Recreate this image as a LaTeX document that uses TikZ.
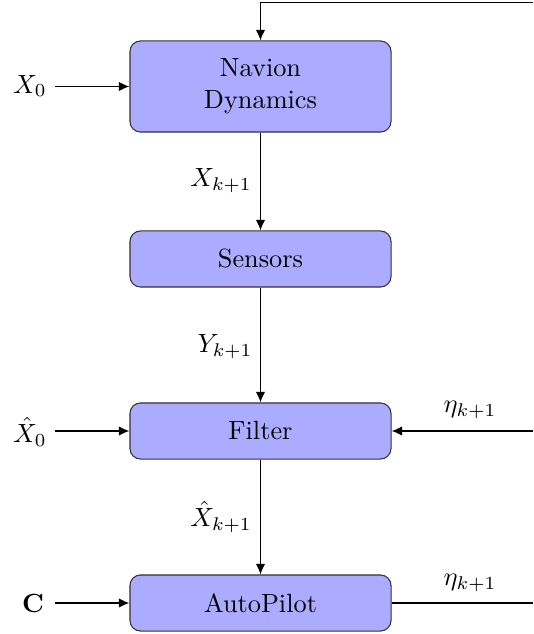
\documentclass[tikz,border=0pt]{standalone}
\usetikzlibrary{arrows.meta}
\begin{document}
\begin{tikzpicture}[x=0.38pt,y=-0.38pt,
  blk/.style={draw=black!80,fill=blue!33,rounded corners=4pt,minimum width=99.2pt,align=center,inner sep=2pt},
  blkS/.style={blk,minimum height=21.3pt},
  blkL/.style={blk,minimum height=34.6pt},
  arr/.style={-{Latex[length=4pt,width=3.5pt]},line width=0.45pt},
  ln/.style={line width=0.45pt}]
\useasboundingbox (0,0) rectangle (533,634);
\node[blkL] (nav) at (260.5,86.5) {Navion\\Dynamics};
\node[blkS] (sen) at (260.5,259) {Sensors};
\node[blkS] (fil) at (260.5,431) {Filter};
\node[blkS] (ap) at (260.5,603) {AutoPilot};
% left inputs
\node (x0) at (30,86) {$X_0$};
\node (xh0) at (30,432) {$\hat{X}_0$};
\node (c) at (33,603) {$\mathbf{C}$};
\coordinate (x0s) at (55,86.5);
\coordinate (xh0s) at (55,431);
\coordinate (cs) at (55,603);
\draw[arr] (x0s) -- (nav.west);
\draw[arr] (xh0s) -- (fil.west);
\draw[arr] (cs) -- (ap.west);
% vertical
\draw[arr] (nav.south) -- (sen.north);
\draw[arr] (sen.south) -- (fil.north);
\draw[arr] (fil.south) -- (ap.north);
\node (lx) at (221,181) {$X_{k+1}$};
\node (ly) at (225,347) {$Y_{k+1}$};
\node (lxh) at (221,517) {$\hat{X}_{k+1}$};
% feedback top
\coordinate (tr) at (533,2.5);
\coordinate (tl) at (260.5,2.5);
\draw[arr] (tr) -- (tl) -- (nav.north);
% right side
\coordinate (fr) at (533,431);
\coordinate (ar) at (533,603);
\draw[arr] (fr) -- (fil.east);
\draw[ln] (ap.east) -- (ar);
\node (e1) at (470,410) {$\eta_{k+1}$};
\node (e2) at (470,583) {$\eta_{k+1}$};
\end{tikzpicture}
\end{document}
